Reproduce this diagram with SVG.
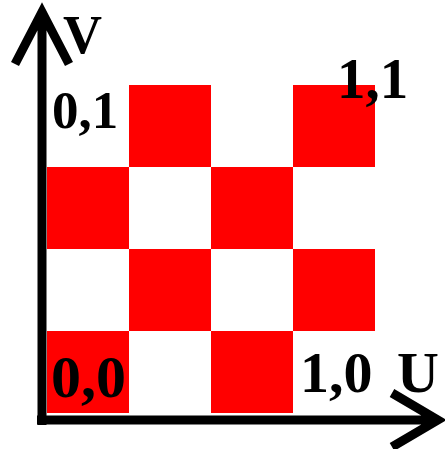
<svg xmlns="http://www.w3.org/2000/svg" width="445" height="449" viewBox="0 0 445 449">
<style>
.sq{fill:#ff0000}
.ax{stroke:#000;stroke-width:9;fill:none}
.lbl{font-family:"Liberation Serif","Times New Roman",serif;font-weight:bold;font-size:54px;fill:#000}
</style>
<rect width="445" height="449" fill="#fff"/>
<g id="grid">
<rect class="sq" x="129" y="85" width="82" height="82"/>
<rect class="sq" x="293" y="85" width="82" height="82"/>
<rect class="sq" x="47" y="167" width="82" height="82"/>
<rect class="sq" x="211" y="167" width="82" height="82"/>
<rect class="sq" x="129" y="249" width="82" height="82"/>
<rect class="sq" x="293" y="249" width="82" height="82"/>
<rect class="sq" x="47" y="331" width="82" height="82"/>
<rect class="sq" x="211" y="331" width="82" height="82"/>
</g>
<g id="axes">
<path class="ax" d="M42,425 V12 M15,64 L42,12 L69,64"/>
<path class="ax" d="M37,420 H438 M392,393 L438,420 L392,447"/>
</g>
<g id="labels">
<text class="lbl" x="63" y="53">V</text>
<text class="lbl" x="52" y="128" style="font-size:53px">0,1</text>
<text class="lbl" x="337" y="98" style="font-size:57px">1,1</text>
<text class="lbl" x="51" y="397" style="font-size:60px">0,0</text>
<text class="lbl" x="300" y="392" style="font-size:58px">1,0</text>
<text class="lbl" x="397" y="392" style="font-size:58px">U</text>
</g>
</svg>
